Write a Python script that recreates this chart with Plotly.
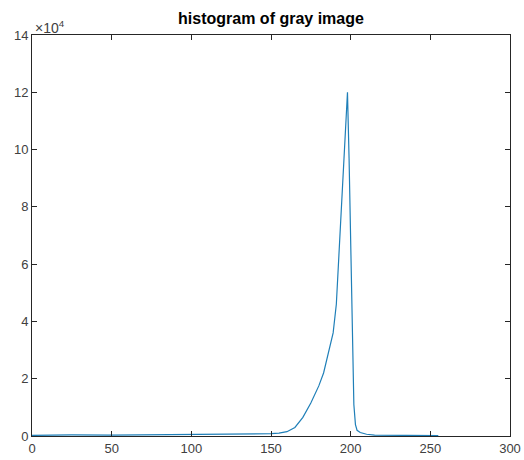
import plotly.graph_objects as go

# gray level (bin) and pixel counts
gray_levels = [0, 25, 50, 75, 100, 125, 150, 155, 160, 165, 170, 175, 180, 183, 185,
               187, 189, 191, 192, 193, 194, 195, 196, 197, 198, 199, 200, 201, 202,
               203, 204, 206, 210, 215, 225, 240, 255]
counts = [200, 400, 300, 400, 600, 700, 800, 1000, 1500, 3000, 6500, 11500, 17500, 22000,
          27000, 31000, 36000, 46000, 57000, 68000, 80000, 92000, 103000, 114000, 120000,
          97000, 72000, 38000, 11000, 4000, 2000, 1200, 600, 300, 200, 150, 100]

x_ticks = [0, 50, 100, 150, 200, 250, 300]
y_ticks = [0, 20000, 40000, 60000, 80000, 100000, 120000, 140000]
y_tick_labels = ["0", "2", "4", "6", "8", "10", "12", "14"]

axis_col = "#262626"
font_fam = "Liberation Sans, Arial, sans-serif"

W, H = 524, 460
ML, MR, MT, MB = 32, 14, 35, 24

fig = go.Figure()
fig.add_trace(go.Scatter(x=gray_levels, y=counts, mode="lines",
                         line=dict(color="#1f7fb8", width=1.2), showlegend=False))

fig.update_layout(
    width=W, height=H,
    margin=dict(l=ML, r=MR, t=MT, b=MB, autoexpand=False),
    paper_bgcolor="white", plot_bgcolor="white",
    font=dict(family=font_fam, size=13, color="#404040"),
    title=dict(text="<b>histogram of gray image</b>",
               x=(ML + (W - MR)) / 2 / W, xanchor="center",
               y=1 - 18 / H, yanchor="middle",
               font=dict(family=font_fam, size=16, color="#000000")),
    xaxis=dict(range=[0, 300], tickvals=x_ticks, showgrid=False, zeroline=False,
               automargin=False,
               showline=True, linecolor=axis_col, linewidth=1, mirror="allticks",
               ticks="inside", ticklen=5, tickcolor=axis_col,
               tickfont=dict(size=13, color="#404040")),
    yaxis=dict(range=[0, 140000], tickvals=y_ticks, ticktext=y_tick_labels,
               showgrid=False, zeroline=False, automargin=False,
               showline=True, linecolor=axis_col, linewidth=1, mirror="allticks",
               ticks="inside", ticklen=5, tickcolor=axis_col,
               tickfont=dict(size=13, color="#404040")),
    annotations=[dict(text="×10<sup>4</sup>", xref="paper", yref="paper",
                      x=0, y=1, xanchor="left", yanchor="bottom", showarrow=False,
                      xshift=1, yshift=-3,
                      font=dict(family=font_fam, size=14, color="#404040"))],
)

fig.write_html("out.html",
               config={"displayModeBar": False},
               post_script="document.body.style.margin='0';"
                           "document.body.style.overflow='hidden';"
                           "document.documentElement.style.overflow='hidden';")
